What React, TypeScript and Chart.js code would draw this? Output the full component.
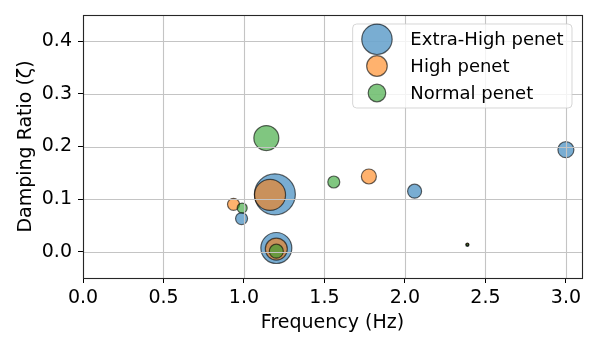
import React, { useEffect, useRef } from 'react';
import { Chart, registerables } from 'chart.js';

Chart.register(...registerables);

// ---- data ----
const seriesNames = ['Extra-High penet', 'High penet', 'Normal penet'];

const extraHighFreq = [1.192, 1.201, 0.985, 2.06, 3.0, 2.388];
const extraHighDamping = [0.109, 0.007, 0.063, 0.115, 0.194, 0.013];
const extraHighSize = [20.5, 15.5, 6, 7, 8, 1.6];

const highFreq = [1.162, 1.201, 0.935, 1.776, 2.388];
const highDamping = [0.108, 0.005, 0.09, 0.143, 0.014];
const highSize = [15.5, 11, 6, 7.5, 1.3];

const normalFreq = [1.139, 1.201, 0.989, 1.558, 2.388];
const normalDamping = [0.216, 0.001, 0.083, 0.1325, 0.013];
const normalSize = [12.5, 7, 5, 6, 1.1];

const legendMarkerSize = [15.2, 10.3, 8.8];

const xTicks = [0, 0.5, 1.0, 1.5, 2.0, 2.5, 3.0];
const yTicks = [0, 0.1, 0.2, 0.3, 0.4];

const fillColors = ['rgba(31,119,180,0.6)', 'rgba(255,127,14,0.6)', 'rgba(44,160,44,0.6)'];
const edgeColor = 'rgba(0,0,0,0.6)';
const FONT = '"DejaVu Sans", sans-serif';

const toPoints = (xs: number[], ys: number[], rs: number[]) =>
  xs.map((x, i) => ({ x, y: ys[i], r: rs[i] }));

const gridOnTop = {
  id: 'gridOnTop',
  afterDatasetsDraw(chart: any) {
    const { ctx, chartArea, scales } = chart;
    ctx.save();
    ctx.strokeStyle = '#c4c4c4';
    ctx.lineWidth = 1.1;
    xTicks.forEach((v) => {
      const p = Math.round(scales.x.getPixelForValue(v)) + 0.5;
      ctx.beginPath();
      ctx.moveTo(p, chartArea.top);
      ctx.lineTo(p, chartArea.bottom);
      ctx.stroke();
    });
    yTicks.forEach((v) => {
      const p = Math.round(scales.y.getPixelForValue(v)) + 0.5;
      ctx.beginPath();
      ctx.moveTo(chartArea.left, p);
      ctx.lineTo(chartArea.right, p);
      ctx.stroke();
    });
    // frame
    ctx.strokeStyle = '#262626';
    ctx.lineWidth = 1.1;
    ctx.strokeRect(
      Math.round(chartArea.left) + 0.5,
      Math.round(chartArea.top) + 0.5,
      Math.round(chartArea.right - chartArea.left),
      Math.round(chartArea.bottom - chartArea.top)
    );
    ctx.restore();
  },
};

const bubbleLegend = {
  id: 'bubbleLegend',
  afterDraw(chart: any) {
    const { ctx, chartArea } = chart;
    ctx.save();
    ctx.font = `18px ${FONT}`;
    const textW = Math.max(...seriesNames.map((s) => ctx.measureText(s).width));
    const rowH = 26.7;
    const markerCx = 24.3;
    const textX = 57.7;
    const padR = 8.5;
    const w = textX + textW + padR;
    const h = 84;
    const right = chartArea.right - 10;
    const left = right - w;
    const top = chartArea.top + 9;
    const rad = 4;
    ctx.beginPath();
    ctx.moveTo(left + rad, top);
    ctx.lineTo(left + w - rad, top);
    ctx.quadraticCurveTo(left + w, top, left + w, top + rad);
    ctx.lineTo(left + w, top + h - rad);
    ctx.quadraticCurveTo(left + w, top + h, left + w - rad, top + h);
    ctx.lineTo(left + rad, top + h);
    ctx.quadraticCurveTo(left, top + h, left, top + h - rad);
    ctx.lineTo(left, top + rad);
    ctx.quadraticCurveTo(left, top, left + rad, top);
    ctx.closePath();
    ctx.fillStyle = 'rgba(255,255,255,0.8)';
    ctx.fill();
    ctx.strokeStyle = 'rgba(204,204,204,0.8)';
    ctx.lineWidth = 1;
    ctx.stroke();

    seriesNames.forEach((name, i) => {
      const cy = top + 15.3 + i * rowH + (i === 2 ? 0.3 : 0);
      ctx.beginPath();
      ctx.arc(left + markerCx, cy, legendMarkerSize[i], 0, Math.PI * 2);
      ctx.fillStyle = fillColors[i];
      ctx.fill();
      ctx.strokeStyle = edgeColor;
      ctx.lineWidth = 1.2;
      ctx.stroke();
      ctx.fillStyle = '#000';
      ctx.textBaseline = 'middle';
      ctx.textAlign = 'left';
      ctx.fillText(name, left + textX, cy + 1);
    });
    ctx.restore();
  },
};

export default function App() {
  const ref = useRef<HTMLCanvasElement | null>(null);

  useEffect(() => {
    if (!ref.current) return;
    const datasets = [
      toPoints(extraHighFreq, extraHighDamping, extraHighSize),
      toPoints(highFreq, highDamping, highSize),
      toPoints(normalFreq, normalDamping, normalSize),
    ].map((data, i) => ({
      label: seriesNames[i],
      data,
      backgroundColor: fillColors[i],
      borderColor: edgeColor,
      borderWidth: 1.2,
      order: 3 - i,
    }));

    const tickFont = { family: FONT, size: 19 };

    const chart = new Chart(ref.current, {
      type: 'bubble',
      data: { datasets },
      plugins: [gridOnTop, bubbleLegend],
      options: {
        animation: false,
        responsive: false,
        events: [],
        layout: { autoPadding: false, padding: { top: 15, right: 16, left: 0, bottom: 0 } },
        plugins: {
          legend: { display: false },
          tooltip: { enabled: false },
        },
        scales: {
          x: {
            type: 'linear',
            min: 0,
            max: 3.1,
            afterBuildTicks: (s: any) => {
              s.ticks = xTicks.map((value) => ({ value }));
            },
            afterFit: (s: any) => {
              s.height = 71;
              s.paddingLeft = 0;
              s.paddingRight = 0;
            },
            ticks: {
              font: tickFont,
              color: '#000',
              padding: 4,
              maxRotation: 0,
              autoSkip: false,
              callback: (v: any) => Number(v).toFixed(1),
            },
            grid: {
              drawOnChartArea: false,
              tickLength: 5,
              tickColor: '#000',
              tickWidth: 1,
            },
            border: { display: false },
            title: {
              display: true,
              text: 'Frequency (Hz)',
              font: tickFont,
              color: '#000',
              padding: { top: 0, bottom: 15 },
            },
          },
          y: {
            type: 'linear',
            min: -0.05,
            max: 0.45,
            afterBuildTicks: (s: any) => {
              s.ticks = yTicks.map((value) => ({ value }));
            },
            afterFit: (s: any) => {
              s.width = 83;
              s.paddingTop = 0;
              s.paddingBottom = 0;
            },
            ticks: {
              font: tickFont,
              color: '#000',
              padding: 6,
              autoSkip: false,
              callback: (v: any) => Number(v).toFixed(1),
            },
            grid: {
              drawOnChartArea: false,
              tickLength: 5,
              tickColor: '#000',
              tickWidth: 1,
            },
            border: { display: false },
            title: {
              display: true,
              text: 'Damping Ratio (ζ)',
              font: tickFont,
              color: '#000',
              padding: { top: 14.6, bottom: 0 },
            },
          },
        },
      } as any,
    });
    return () => chart.destroy();
  }, []);

  return (
    <div style={{ position: 'fixed', left: 0, top: 0, width: 598, height: 349, background: '#fff' }}>
      <canvas ref={ref} width={598} height={349} style={{ width: 598, height: 349 }} />
    </div>
  );
}
